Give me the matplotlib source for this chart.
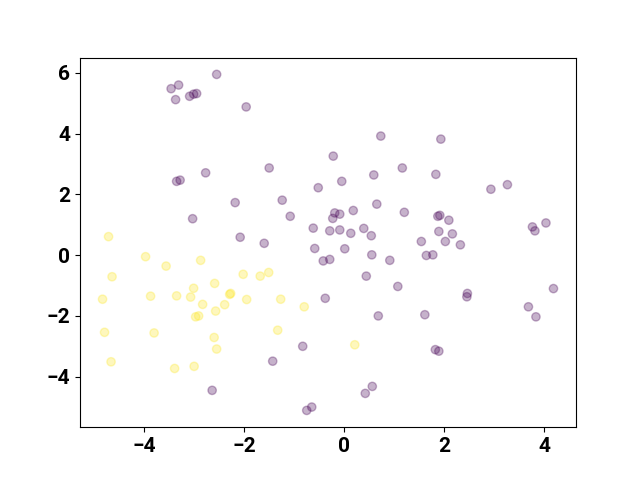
import numpy as np
import matplotlib
matplotlib.use('Agg')
import matplotlib.pyplot as plt

# class 0 points (purple)
x0 = [-3.46, -3.31, -3.37, -3.09, -3.01, -2.95, -2.55, -1.96,
      -3.35, -3.28, -2.77, -3.03, -2.18, -2.08, -1.60,
      -1.50, -1.24, -1.08,
      -0.22, 0.73, -0.52, -0.05, 0.59, 1.16,
      -0.62, -0.19, -0.09, -0.23, 0.18, 0.65, 1.20,
      -0.29, -0.09, 0.13, 0.39, 0.54,
      -0.59, 0.01, -0.42, -0.29, 0.55, 0.91, 0.44, 1.07, -0.38,
      1.93, 1.83, 2.93, 3.26,
      1.87, 1.91, 2.09, 1.89, 2.16, 1.54, 2.02, 2.32, 1.64, 1.77,
      3.76, 3.81, 4.03,
      2.46, 2.45, 4.18, 3.68, 3.83, 1.61, 1.82, 1.89,
      0.68, -0.83, -1.43, 0.56, 0.42, -0.65, -0.75, -2.64]
y0 = [5.48, 5.60, 5.12, 5.23, 5.30, 5.32, 5.95, 4.88,
      2.43, 2.47, 2.71, 1.20, 1.73, 0.59, 0.39,
      2.87, 1.81, 1.28,
      3.26, 3.92, 2.22, 2.43, 2.64, 2.87,
      0.89, 1.39, 1.35, 1.21, 1.47, 1.68, 1.41,
      0.80, 0.83, 0.72, 0.88, 0.64,
      0.22, 0.21, -0.19, -0.14, 0.01, -0.17, -0.69, -1.03, -1.42,
      3.82, 2.66, 2.17, 2.32,
      1.28, 1.31, 1.15, 0.78, 0.70, 0.45, 0.45, 0.34, -0.01, 0.01,
      0.93, 0.80, 1.06,
      -1.26, -1.37, -1.10, -1.70, -2.03, -1.96, -3.11, -3.16,
      -2.00, -3.00, -3.49, -4.32, -4.55, -5.00, -5.11, -4.45]

# class 1 points (yellow)
x1 = [-4.71, -3.97, -3.56, -2.87, -4.64, -2.02, -1.68, -1.51,
      -2.59, -3.01, -4.83, -3.87, -3.35, -3.07, -2.29, -2.27,
      -1.95, -1.27, -0.80, -2.83, -2.57, -2.39, -2.97, -2.91,
      -4.79, -3.80, -1.33, -2.60, -2.55, 0.21, -4.66, -3.39, -3.00]
y1 = [0.61, -0.05, -0.36, -0.17, -0.71, -0.63, -0.69, -0.57,
      -0.93, -1.09, -1.45, -1.35, -1.34, -1.38, -1.29, -1.26,
      -1.46, -1.45, -1.70, -1.62, -1.84, -1.63, -2.03, -2.00,
      -2.54, -2.56, -2.47, -2.71, -3.09, -2.95, -3.51, -3.73, -3.66]

xs = np.array(x0 + x1)
ys = np.array(y0 + y1)
labels = np.array([0] * len(x0) + [1] * len(x1))

plt.rcParams['font.family'] = ['Roboto', 'DejaVu Sans']

fig, ax = plt.subplots(figsize=(6.4, 4.8), dpi=100)
ax.scatter(xs, ys, c=labels, cmap='viridis', alpha=0.3)

for lbl in ax.get_xticklabels() + ax.get_yticklabels():
    lbl.set_fontweight('bold')
    lbl.set_fontsize(15)

fig.savefig('out.png')
